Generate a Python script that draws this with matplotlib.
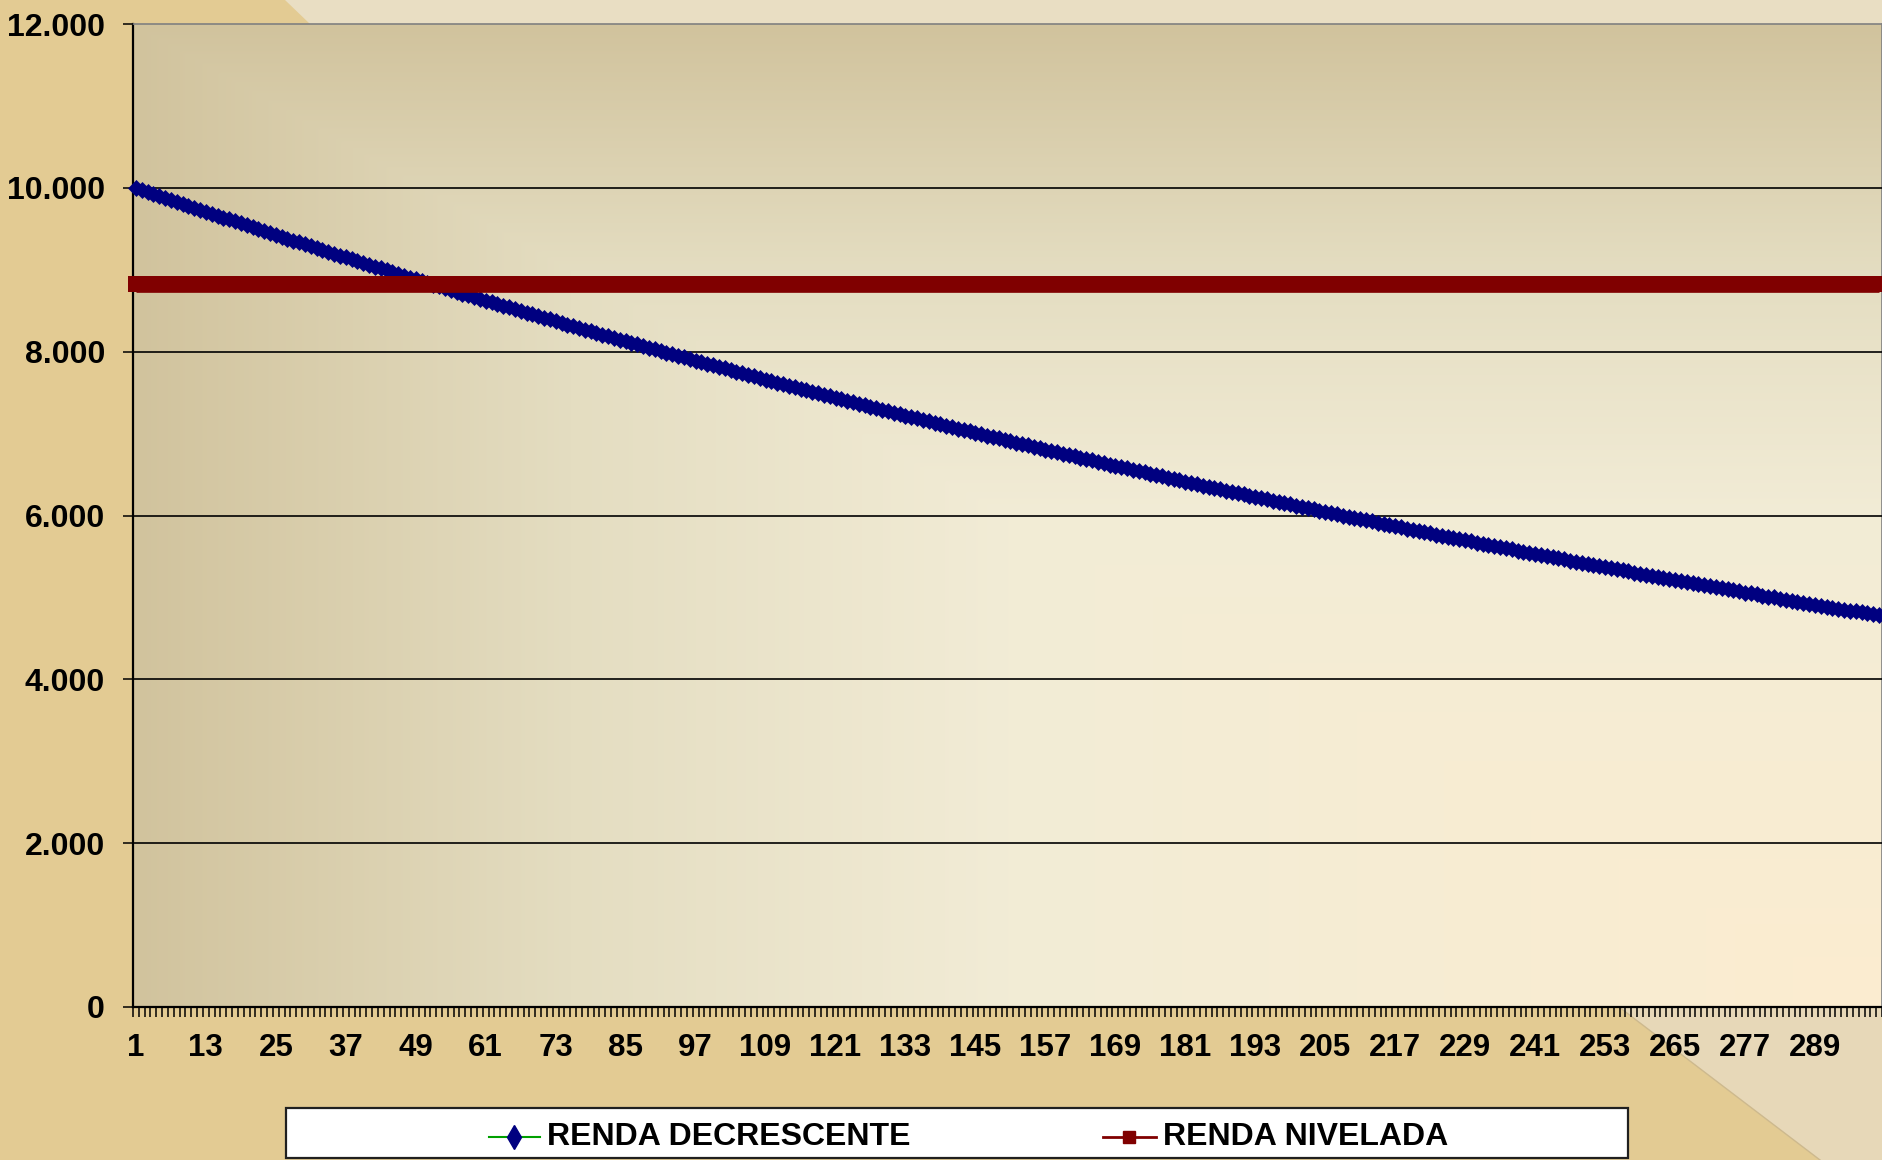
import numpy as np
import matplotlib
matplotlib.use("Agg")
import matplotlib.pyplot as plt
from matplotlib.lines import Line2D
from matplotlib.patches import Rectangle, Polygon

# dados
periodos = list(range(1, 301))
renda_decrescente = [
    10000, 9976, 9951, 9927, 9903, 9878, 9854, 9830, 9805, 9781, 9757, 9732,
    9708, 9685, 9661, 9637, 9614, 9590, 9567, 9543, 9519, 9496, 9472, 9448,
    9425, 9402, 9379, 9356, 9333, 9310, 9287, 9265, 9242, 9219, 9196, 9173,
    9150, 9128, 9105, 9083, 9061, 9039, 9016, 8994, 8972, 8950, 8927, 8905,
    8883, 8861, 8840, 8818, 8797, 8775, 8753, 8732, 8710, 8689, 8667, 8645,
    8624, 8603, 8582, 8561, 8540, 8519, 8498, 8477, 8456, 8435, 8414, 8393,
    8372, 8352, 8331, 8311, 8291, 8270, 8250, 8229, 8209, 8189, 8168, 8148,
    8128, 8108, 8088, 8068, 8049, 8029, 8009, 7989, 7970, 7950, 7930, 7910,
    7890, 7871, 7852, 7833, 7814, 7795, 7775, 7756, 7737, 7718, 7699, 7679,
    7660, 7642, 7623, 7604, 7586, 7567, 7548, 7530, 7511, 7493, 7474, 7455,
    7437, 7419, 7401, 7382, 7364, 7346, 7328, 7310, 7292, 7274, 7256, 7238,
    7220, 7202, 7185, 7167, 7149, 7132, 7114, 7097, 7079, 7062, 7044, 7027,
    7009, 6992, 6975, 6958, 6941, 6924, 6907, 6890, 6873, 6856, 6839, 6822,
    6804, 6788, 6771, 6755, 6738, 6722, 6705, 6689, 6672, 6656, 6639, 6622,
    6606, 6590, 6574, 6558, 6542, 6526, 6509, 6493, 6477, 6461, 6445, 6429,
    6413, 6398, 6382, 6366, 6351, 6335, 6320, 6304, 6288, 6273, 6257, 6242,
    6226, 6211, 6196, 6181, 6165, 6150, 6135, 6120, 6105, 6090, 6075, 6060,
    6044, 6030, 6015, 6000, 5986, 5971, 5956, 5941, 5927, 5912, 5897, 5883,
    5868, 5854, 5839, 5825, 5811, 5797, 5782, 5768, 5754, 5739, 5725, 5711,
    5697, 5683, 5669, 5655, 5641, 5627, 5614, 5600, 5586, 5572, 5558, 5544,
    5530, 5517, 5504, 5490, 5477, 5463, 5450, 5436, 5423, 5409, 5396, 5383,
    5369, 5356, 5343, 5330, 5317, 5304, 5291, 5278, 5265, 5252, 5239, 5225,
    5212, 5200, 5187, 5174, 5162, 5149, 5136, 5124, 5111, 5098, 5086, 5073,
    5060, 5048, 5036, 5023, 5011, 4999, 4986, 4974, 4962, 4950, 4937, 4925,
    4913, 4901, 4888, 4876, 4864, 4852, 4840, 4829, 4817, 4805, 4793, 4781,
]
renda_nivelada = [8820] * 300

xticks_pos = [1, 13, 25, 37, 49, 61, 73, 85, 97, 109, 121, 133, 145, 157, 169,
              181, 193, 205, 217, 229, 241, 253, 265, 277, 289]
xticks_lab = [str(v) for v in xticks_pos]
yticks_pos = [0, 2000, 4000, 6000, 8000, 10000, 12000]
yticks_lab = ["0", "2.000", "4.000", "6.000", "8.000", "10.000", "12.000"]

plt.rcParams['font.family'] = ['Liberation Sans', 'DejaVu Sans']
plt.rcParams['font.weight'] = 'bold'

W, H = 1883, 1160
fig = plt.figure(figsize=(W / 100, H / 100), dpi=100)
fig.patch.set_facecolor('#E3CB93')

# papel de fundo (dobras mais claras)
fig.add_artist(Polygon([(285 / W, 1), (1, 1), (1, 1 - 24 / H), (310 / W, 1 - 24 / H)],
                       closed=True, transform=fig.transFigure, fc='#E9DEC3', ec='none', zorder=0))
fig.add_artist(Polygon([(1619 / W, 1 - 1007 / H), (1, 1 - 1007 / H), (1, 0), (1820 / W, 0)],
                       closed=True, transform=fig.transFigure, fc='#E7D8B8', ec='none', zorder=0))
fig.add_artist(Line2D([1619 / W, 1820 / W], [1 - 1007 / H, 0], transform=fig.transFigure,
                      color='#CDB98E', lw=1, zorder=0))

ax = fig.add_axes([133 / W, 1 - 1007 / H, (1882 - 133) / W, (1007 - 24) / H])

# gradiente do fundo da área de plotagem (a partir do canto)
u = np.linspace(0, 1, 600)
w = np.linspace(0, 1, 400)
t = np.minimum(u[None, :], w[:, None])
stops = [0, 0.25, 0.5, 1.0]
cores = np.array([[209, 195, 157], [228, 221, 193], [242, 236, 214], [252, 237, 208]]) / 255
grad = np.dstack([np.interp(t, stops, cores[:, i]) for i in range(3)])
ax.imshow(grad, extent=(0, 1, 0, 1), transform=ax.transAxes, aspect='auto',
          interpolation='bilinear', zorder=0)

ax.plot(periodos, renda_decrescente, color='#00A000', lw=1, marker='D', ms=8.5,
        mfc='#000080', mec='#000080', mew=0.5, clip_on=False, zorder=3)
ax.plot(periodos, renda_nivelada, color='#800000', lw=12, marker='s', ms=12,
        mfc='#800000', mec='#800000', mew=0, solid_capstyle='butt', clip_on=False, zorder=4)

ax.set_xlim(0.5, 300.5)
ax.set_ylim(0, 12000)

ax.set_xticks(xticks_pos)
ax.set_xticklabels(xticks_lab)
ax.set_xticks(np.arange(0.5, 301, 1), minor=True)
ax.tick_params(axis='x', which='major', length=0, pad=19, labelsize=22.5)
ax.tick_params(axis='x', which='minor', direction='out', length=7.2, width=1.1, color='black')
ax.set_yticks(yticks_pos)
ax.set_yticklabels(yticks_lab)
ax.tick_params(axis='y', direction='out', length=7.2, width=1.1, pad=13, labelsize=23)
for lab in ax.get_xticklabels() + ax.get_yticklabels():
    lab.set_fontweight('bold')

ax.yaxis.grid(True, color='black', lw=1.2)
gl = ax.get_ygridlines()
gl[0].set_visible(False)
gl[-1].set_visible(False)
ax.set_axisbelow(False)
for gline in gl:
    gline.set_zorder(1)

ax.spines['left'].set_color('black')
ax.spines['left'].set_linewidth(1.6)
ax.spines['bottom'].set_color('black')
ax.spines['bottom'].set_linewidth(1.6)
ax.spines['top'].set_color('#808080')
ax.spines['top'].set_linewidth(1.2)
ax.spines['right'].set_color('#808080')
ax.spines['right'].set_linewidth(1.2)

# legenda
fig.add_artist(Rectangle((286 / W, 1 - 1158 / H), (1628 - 286) / W, (1158 - 1108) / H,
                         transform=fig.transFigure, fc='white', ec='#202020', lw=1.6, zorder=5))
ly = 1 - 1137 / H
fig.add_artist(Line2D([489 / W, 540 / W], [ly, ly], transform=fig.transFigure,
                      color='#00A000', lw=1.5, zorder=6))
fig.add_artist(Line2D([514 / W], [ly], transform=fig.transFigure, marker='d', ms=12,
                      mfc='#000080', mec='#000080', zorder=7))
fig.text(547 / W, ly, "RENDA DECRESCENTE", fontsize=23, fontweight='bold',
         va='center', ha='left', zorder=7)
fig.add_artist(Line2D([1103 / W, 1156 / W], [ly, ly], transform=fig.transFigure,
                      color='#800000', lw=2, zorder=6))
fig.add_artist(Line2D([1129 / W], [ly], transform=fig.transFigure, marker='s', ms=8,
                      mfc='#800000', mec='#800000', zorder=7))
fig.text(1163 / W, ly, "RENDA NIVELADA", fontsize=23, fontweight='bold',
         va='center', ha='left', zorder=7)

fig.savefig("out.png", dpi=100, facecolor=fig.get_facecolor())
